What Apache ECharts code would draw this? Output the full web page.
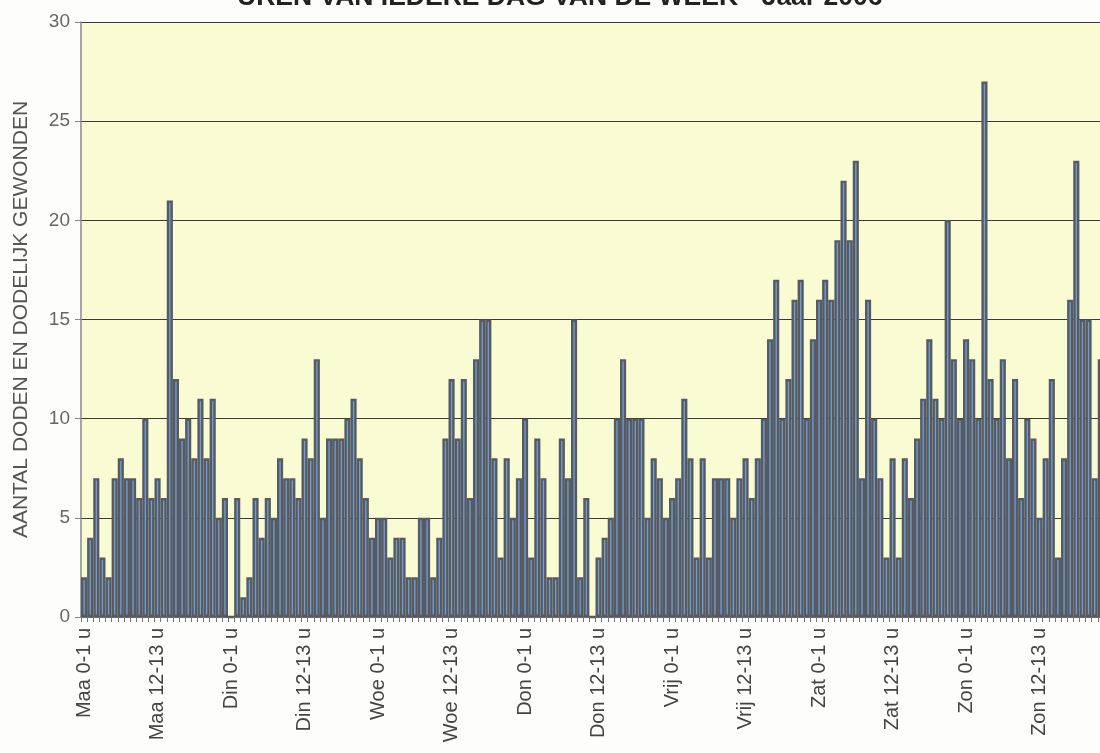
<!DOCTYPE html>
<html>
<head>
<meta charset="utf-8">
<script src="https://cdn.jsdelivr.net/npm/echarts@6/dist/echarts.min.js"></script>
<style>
  html, body { margin: 0; padding: 0; background: #fdfdfb; }
  #chart { width: 1100px; height: 753px; }
</style>
</head>
<body>
<div id="chart"></div>
<script>
const days = ["Maa", "Din", "Woe", "Don", "Vrij", "Zat", "Zon"];
const hourLabels = [];
for (let h = 0; h < 24; h++) hourLabels.push(h + "-" + (h + 1) + " u");

// aantal doden en dodelijk gewonden per uur, per dag
const maa = [2, 4, 7, 3, 2, 7, 8, 7, 7, 6, 10, 6, 7, 6, 21, 12, 9, 10, 8, 11, 8, 11, 5, 6];
const din = [0, 6, 1, 2, 6, 4, 6, 5, 8, 7, 7, 6, 9, 8, 13, 5, 9, 9, 9, 10, 11, 8, 6, 4];
const woe = [5, 5, 3, 4, 4, 2, 2, 5, 5, 2, 4, 9, 12, 9, 12, 6, 13, 15, 15, 8, 3, 8, 5, 7];
const don = [10, 3, 9, 7, 2, 2, 9, 7, 15, 2, 6, 0, 3, 4, 5, 10, 13, 10, 10, 10, 5, 8, 7, 5];
const vrij = [6, 7, 11, 8, 3, 8, 3, 7, 7, 7, 5, 7, 8, 6, 8, 10, 14, 17, 10, 12, 16, 17, 10, 14];
const zat = [16, 17, 16, 19, 22, 19, 23, 7, 16, 10, 7, 3, 8, 3, 8, 6, 9, 11, 14, 11, 10, 20, 13, 10];
// laatste uur van zondag valt buiten het beeld
const zon = [14, 13, 10, 27, 12, 10, 13, 8, 12, 6, 10, 9, 5, 8, 12, 3, 8, 16, 23, 15, 15, 7, 13];

const categories = [];
days.forEach((d) => hourLabels.forEach((h) => categories.push(d + " " + h)));
const values = [].concat(maa, din, woe, don, vrij, zat, zon);

const chart = echarts.init(document.getElementById("chart"));

const option = {
  animation: false,
  backgroundColor: "#fdfdfb",
  title: {
    text: "UREN VAN IEDERE DAG VAN DE WEEK - Jaar 2006",
    left: 232,
    top: -21,
    textStyle: {
      fontFamily: "Liberation Sans",
      fontSize: 26.5,
      fontWeight: "bold",
      color: "#222",
    },
  },
  grid: {
    left: 81,
    right: -10,
    top: 22,
    bottom: 136,
    outerBoundsMode: "none",
    show: true,
    backgroundColor: "#f9fbd3",
    borderWidth: 0,
  },
  xAxis: {
    type: "category",
    data: categories,
    axisLine: { lineStyle: { color: "#777", width: 1.5 } },
    axisTick: { show: true, interval: 0, length: 5, lineStyle: { color: "#777" } },
    axisLabel: {
      interval: 11,
      rotate: 90,
      margin: 11,
      fontFamily: "Liberation Sans",
      fontSize: 20,
      color: "#444",
    },
  },
  yAxis: {
    type: "value",
    min: 0,
    max: 30,
    interval: 5,
    name: "AANTAL DODEN EN DODELIJK GEWONDEN",
    nameLocation: "middle",
    nameGap: 49,
    nameTextStyle: {
      fontFamily: "Liberation Sans",
      fontSize: 21,
      color: "#555",
    },
    axisLine: { show: true, lineStyle: { color: "#888", width: 1.5 } },
    axisTick: { show: true, length: 6, lineStyle: { color: "#888" } },
    axisLabel: {
      margin: 11,
      fontFamily: "Liberation Sans",
      fontSize: 19,
      color: "#666",
    },
    splitLine: { show: true, lineStyle: { color: "#3a3a3a", width: 1 } },
  },
  series: [
    {
      type: "bar",
      data: values,
      barWidth: "100%",
      itemStyle: {
        color: "#6e9fd4",
        borderColor: "#575a61",
        borderWidth: 2.4,
      },
    },
  ],
};

chart.setOption(option);
window.addEventListener("resize", () => chart.resize());
</script>
</body>
</html>
